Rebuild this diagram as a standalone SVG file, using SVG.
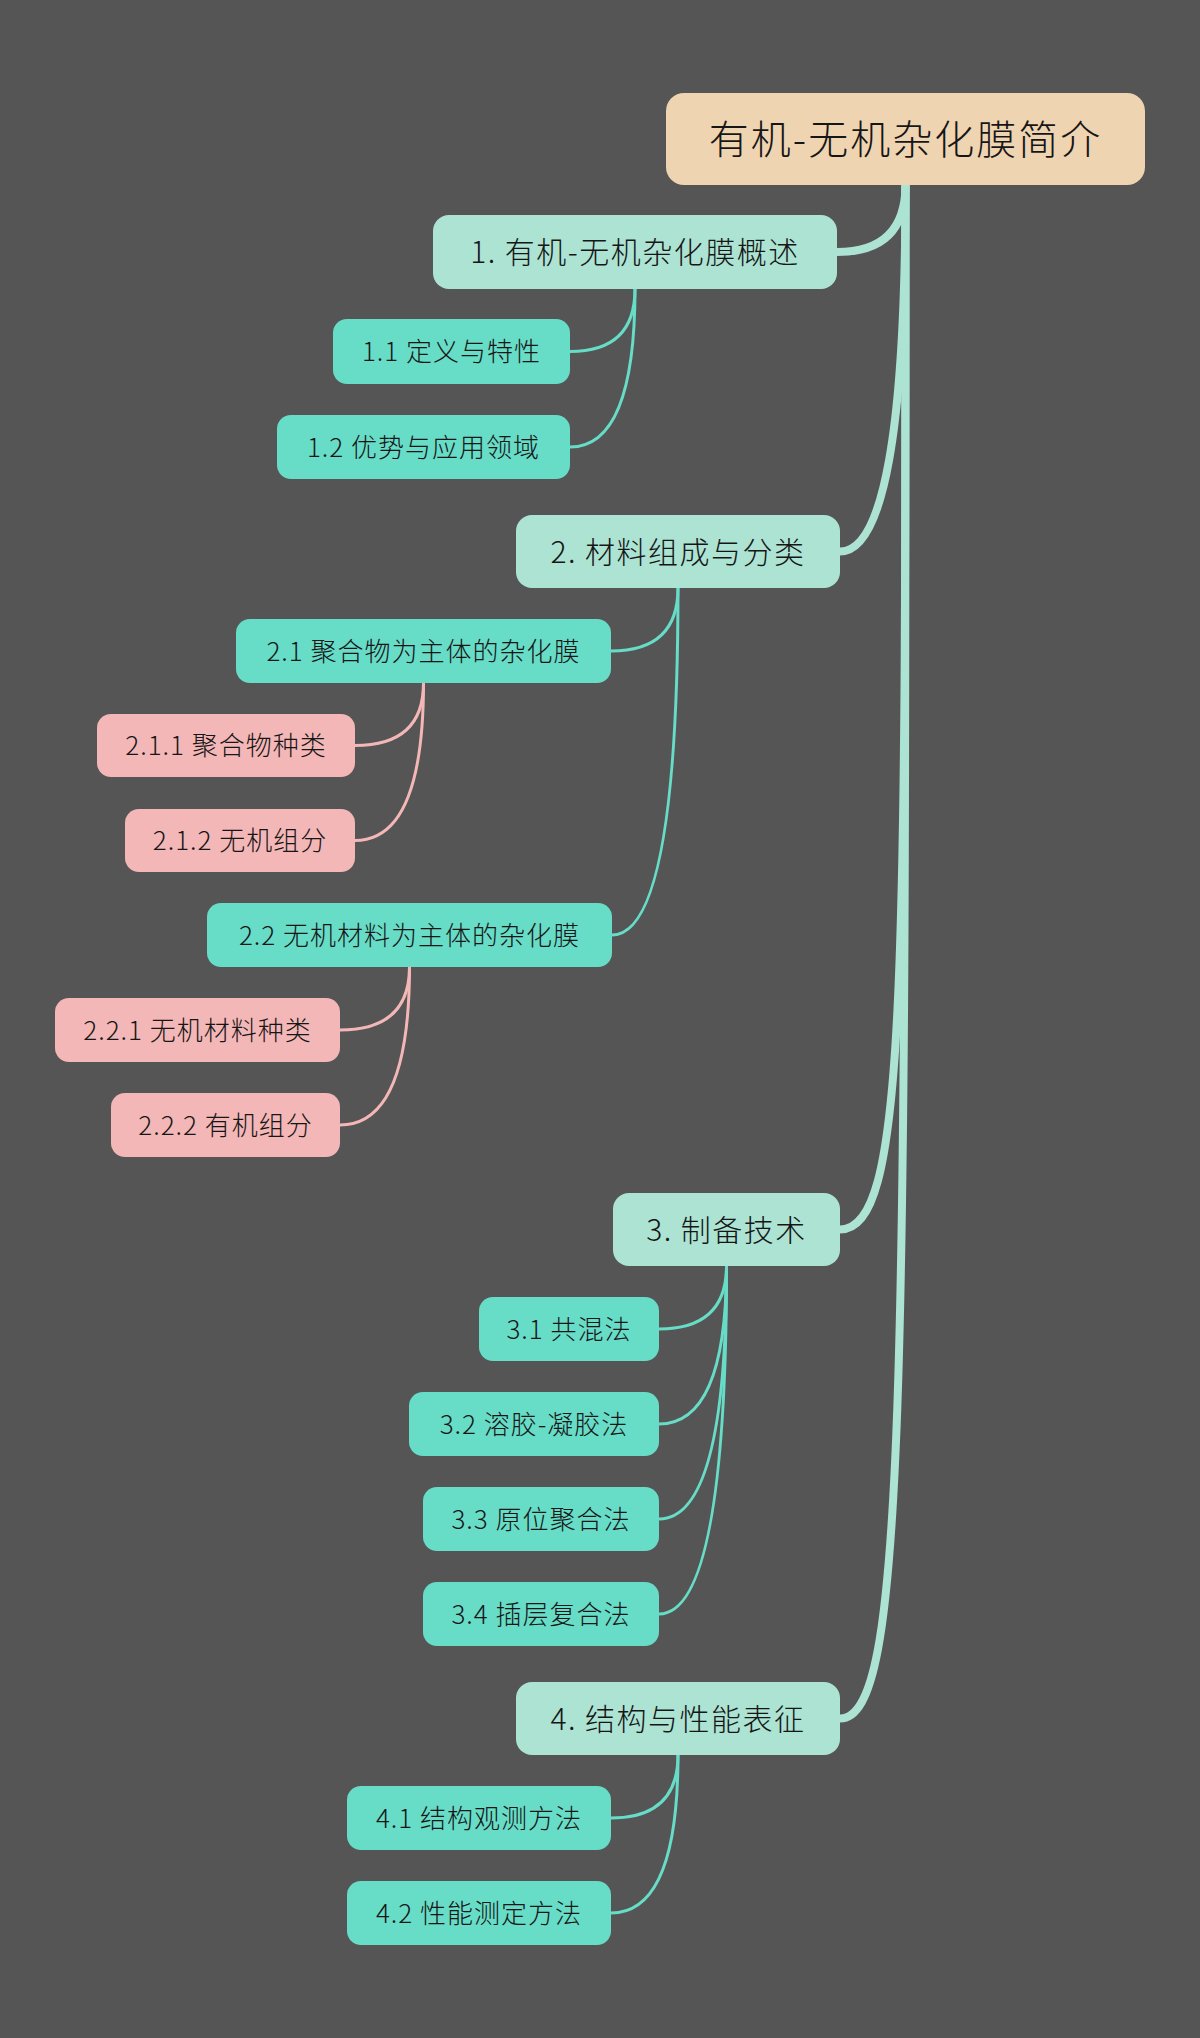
<svg xmlns="http://www.w3.org/2000/svg" width="1200" height="2038" viewBox="0 0 1200 2038">
<style>
text { font-family: "Noto Sans CJK SC", "Noto Sans", sans-serif; font-weight: 300; fill: #161616; text-anchor: middle; }
.t0 { font-size: 40px; letter-spacing: 2px; }
.t1 { font-size: 30px; letter-spacing: 1.5px; }
.t2 { font-size: 26px; letter-spacing: 1px; }
.r0 { fill: #EFD4B2; }
.r1 { fill: #ACE3D3; }
.r2 { fill: #67DCC7; }
.r3 { fill: #F4B7B7; }
.c1 { fill: none; stroke: #ACE3D3; stroke-width: 8; }
.c2 { fill: none; stroke: #67DCC7; stroke-width: 3; }
.c3 { fill: none; stroke: #F4B7B7; stroke-width: 3; }
</style>
<rect x="0" y="0" width="1200" height="2038" fill="#555555"/>
<g id="connectors">
  <path class="c1" d="M905.5,185 Q905.5,252 837,252"/>
  <path class="c1" d="M905.5,185 Q905.5,551.5 840,551.5"/>
  <path class="c1" d="M905.5,185 C905.5,1000 905.5,1229.5 840,1229.5"/>
  <path class="c1" d="M905.5,185 C905.5,1400 905.5,1718.5 840,1718.5"/>
  <path class="c2" d="M635,289 Q635,351.5 570,351.5"/>
  <path class="c2" d="M635,289 Q635,447 570,447"/>
  <path class="c2" d="M678,588 Q678,651 611,651"/>
  <path class="c2" d="M678,588 Q678,935 612,935"/>
  <path class="c3" d="M423.5,683 Q423.5,745.5 355,745.5"/>
  <path class="c3" d="M423.5,683 Q423.5,840.5 355,840.5"/>
  <path class="c3" d="M409.5,967 Q409.5,1030 340,1030"/>
  <path class="c3" d="M409.5,967 Q409.5,1125 340,1125"/>
  <path class="c2" d="M726.5,1266 Q726.5,1329 659,1329"/>
  <path class="c2" d="M726.5,1266 Q726.5,1424 659,1424"/>
  <path class="c2" d="M726.5,1266 Q726.5,1519 659,1519"/>
  <path class="c2" d="M726.5,1266 Q726.5,1614 659,1614"/>
  <path class="c2" d="M678,1755 Q678,1818 611,1818"/>
  <path class="c2" d="M678,1755 Q678,1913 611,1913"/>
</g>
<g id="root"><rect class="r0" x="666" y="93" width="479" height="92" rx="18"/><text class="t0" x="905.5" y="154">有机-无机杂化膜简介</text></g>
<g id="n1"><rect class="r1" x="433" y="215" width="404" height="74" rx="16"/><text class="t1" x="635" y="263">1. 有机-无机杂化膜概述</text></g>
<g id="n1-1"><rect class="r2" x="333" y="319" width="237" height="65" rx="14"/><text class="t2" x="451.5" y="361">1.1 定义与特性</text></g>
<g id="n1-2"><rect class="r2" x="277" y="415" width="293" height="64" rx="14"/><text class="t2" x="423.5" y="456.6">1.2 优势与应用领域</text></g>
<g id="n2"><rect class="r1" x="516" y="515" width="324" height="73" rx="16"/><text class="t1" x="678" y="562.5">2. 材料组成与分类</text></g>
<g id="n2-1"><rect class="r2" x="236" y="619" width="375" height="64" rx="14"/><text class="t2" x="423.5" y="660.6">2.1 聚合物为主体的杂化膜</text></g>
<g id="n2-1-1"><rect class="r3" x="97" y="714" width="258" height="63" rx="14"/><text class="t2" x="226" y="755">2.1.1 聚合物种类</text></g>
<g id="n2-1-2"><rect class="r3" x="125" y="809" width="230" height="63" rx="14"/><text class="t2" x="240" y="850">2.1.2 无机组分</text></g>
<g id="n2-2"><rect class="r2" x="207" y="903" width="405" height="64" rx="14"/><text class="t2" x="409.5" y="944.6">2.2 无机材料为主体的杂化膜</text></g>
<g id="n2-2-1"><rect class="r3" x="55" y="998" width="285" height="64" rx="14"/><text class="t2" x="197.5" y="1039.6">2.2.1 无机材料种类</text></g>
<g id="n2-2-2"><rect class="r3" x="111" y="1093" width="229" height="64" rx="14"/><text class="t2" x="225.5" y="1134.6">2.2.2 有机组分</text></g>
<g id="n3"><rect class="r1" x="613" y="1193" width="227" height="73" rx="16"/><text class="t1" x="726.5" y="1240.5">3. 制备技术</text></g>
<g id="n3-1"><rect class="r2" x="479" y="1297" width="180" height="64" rx="14"/><text class="t2" x="569" y="1338.6">3.1 共混法</text></g>
<g id="n3-2"><rect class="r2" x="409" y="1392" width="250" height="64" rx="14"/><text class="t2" x="534" y="1433.6">3.2 溶胶-凝胶法</text></g>
<g id="n3-3"><rect class="r2" x="423" y="1487" width="236" height="64" rx="14"/><text class="t2" x="541" y="1528.6">3.3 原位聚合法</text></g>
<g id="n3-4"><rect class="r2" x="423" y="1582" width="236" height="64" rx="14"/><text class="t2" x="541" y="1623.6">3.4 插层复合法</text></g>
<g id="n4"><rect class="r1" x="516" y="1682" width="324" height="73" rx="16"/><text class="t1" x="678" y="1729.5">4. 结构与性能表征</text></g>
<g id="n4-1"><rect class="r2" x="347" y="1786" width="264" height="64" rx="14"/><text class="t2" x="479" y="1827.6">4.1 结构观测方法</text></g>
<g id="n4-2"><rect class="r2" x="347" y="1881" width="264" height="64" rx="14"/><text class="t2" x="479" y="1922.6">4.2 性能测定方法</text></g>
</svg>
